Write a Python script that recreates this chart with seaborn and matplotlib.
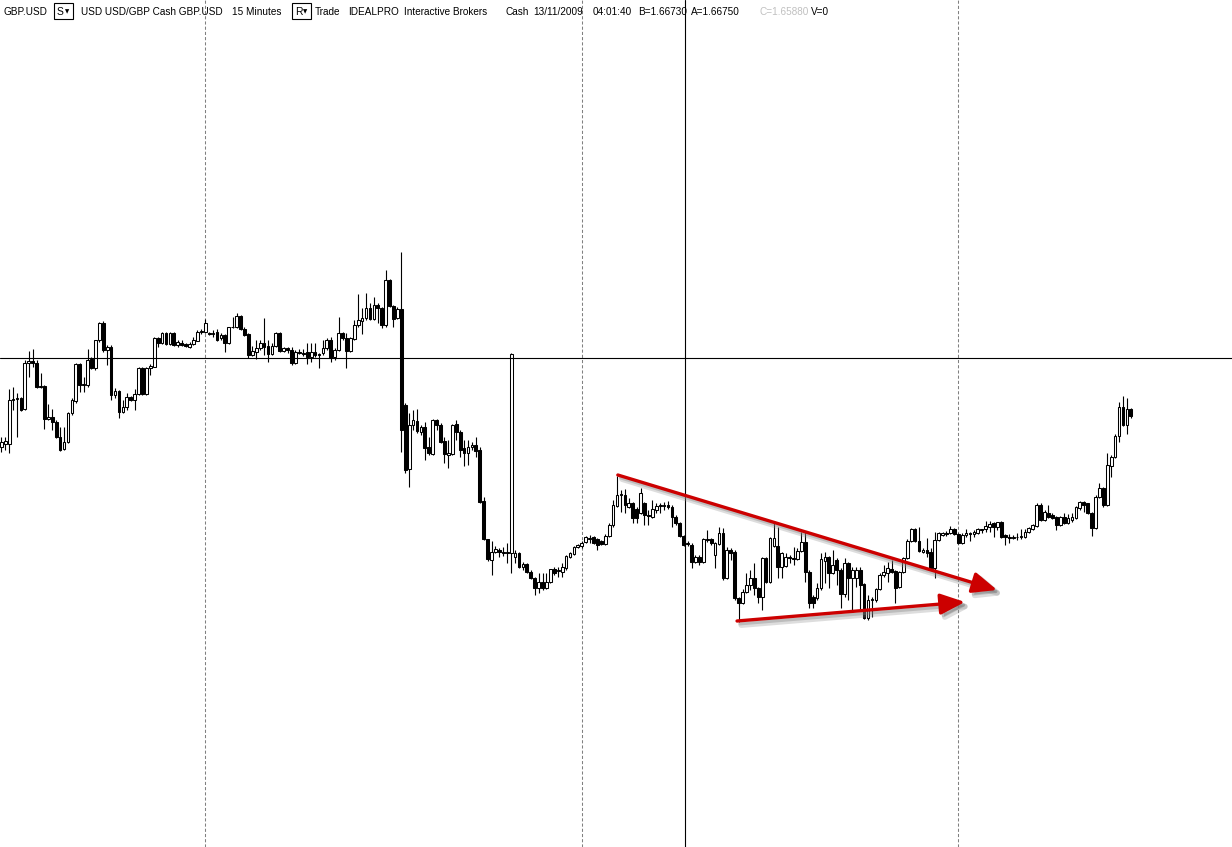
import numpy as np
import pandas as pd
import matplotlib
matplotlib.use("Agg")
import matplotlib.pyplot as plt
import matplotlib.patheffects as pe
from matplotlib.patches import Rectangle
import seaborn as sns

# GBP.USD, 15 minute bars (one value per bar)
opens = [1.6633, 1.6636, 1.6636, 1.6680, 1.6681, 1.6682, 1.6671, 1.6717, 1.6719, 1.6717,
         1.6693, 1.6694, 1.6661, 1.6663, 1.6658, 1.6643, 1.6631, 1.6638, 1.6667, 1.6679,
         1.6716, 1.6695, 1.6695, 1.6721, 1.6712, 1.6740, 1.6757, 1.6730, 1.6733, 1.6685,
         1.6689, 1.6668, 1.6673, 1.6683, 1.6680, 1.6686, 1.6712, 1.6686, 1.6712, 1.6713,
         1.6742, 1.6737, 1.6747, 1.6736, 1.6747, 1.6735, 1.6737, 1.6736, 1.6733, 1.6736,
         1.6739, 1.6748, 1.6748, 1.6747, 1.6746, 1.6748, 1.6742, 1.6745, 1.6737, 1.6753,
         1.6753, 1.6764, 1.6751, 1.6746, 1.6725, 1.6728, 1.6732, 1.6737, 1.6734, 1.6726,
         1.6734, 1.6747, 1.6729, 1.6732, 1.6730, 1.6717, 1.6728, 1.6727, 1.6728, 1.6723,
         1.6728, 1.6726, 1.6727, 1.6732, 1.6740, 1.6723, 1.6730, 1.6747, 1.6742, 1.6729,
         1.6741, 1.6755, 1.6759, 1.6762, 1.6772, 1.6761, 1.6775, 1.6772, 1.6755, 1.6800,
         1.6774, 1.6762, 1.6771, 1.6675, 1.6611, 1.6655, 1.6659, 1.6648, 1.6653, 1.6633,
         1.6626, 1.6660, 1.6655, 1.6639, 1.6625, 1.6626, 1.6656, 1.6648, 1.6632, 1.6627,
         1.6633, 1.6635, 1.6630, 1.6579, 1.6541, 1.6520, 1.6528, 1.6530, 1.6528, 1.6528,
         1.6527, 1.6523, 1.6527, 1.6513, 1.6516, 1.6508, 1.6502, 1.6492, 1.6498, 1.6492,
         1.6498, 1.6511, 1.6509, 1.6508, 1.6512, 1.6523, 1.6526, 1.6533, 1.6534, 1.6538,
         1.6541, 1.6543, 1.6541, 1.6539, 1.6536, 1.6544, 1.6555, 1.6574, 1.6585, 1.6585,
         1.6573, 1.6577, 1.6571, 1.6567, 1.6577, 1.6565, 1.6563, 1.6570, 1.6574, 1.6575,
         1.6575, 1.6573, 1.6563, 1.6557, 1.6544, 1.6536, 1.6535, 1.6518, 1.6523, 1.6518,
         1.6541, 1.6541, 1.6525, 1.6536, 1.6547, 1.6502, 1.6530, 1.6528, 1.6482, 1.6477,
         1.6488, 1.6495, 1.6502, 1.6492, 1.6483, 1.6522, 1.6498, 1.6534, 1.6534, 1.6513,
         1.6514, 1.6523, 1.6522, 1.6521, 1.6529, 1.6538, 1.6508, 1.6483, 1.6482, 1.6492,
         1.6519, 1.6523, 1.6507, 1.6520, 1.6510, 1.6486, 1.6517, 1.6502, 1.6502, 1.6510,
         1.6496, 1.6462, 1.6480, 1.6480, 1.6491, 1.6505, 1.6507, 1.6511, 1.6509, 1.6493,
         1.6508, 1.6522, 1.6539, 1.6551, 1.6539, 1.6528, 1.6530, 1.6528, 1.6512, 1.6540,
         1.6545, 1.6547, 1.6547, 1.6551, 1.6546, 1.6537, 1.6545, 1.6547, 1.6546, 1.6547,
         1.6551, 1.6551, 1.6553, 1.6557, 1.6553, 1.6558, 1.6545, 1.6543, 1.6542, 1.6543,
         1.6543, 1.6543, 1.6548, 1.6551, 1.6554, 1.6575, 1.6560, 1.6567, 1.6565, 1.6563,
         1.6555, 1.6563, 1.6557, 1.6560, 1.6562, 1.6572, 1.6578, 1.6577, 1.6567, 1.6552,
         1.6583, 1.6592, 1.6575, 1.6614, 1.6623, 1.6644, 1.6673, 1.6655, 1.6671]

highs = [1.6643, 1.6643, 1.6691, 1.6693, 1.6687, 1.6683, 1.6720, 1.6729, 1.6731, 1.6720,
         1.6707, 1.6695, 1.6676, 1.6671, 1.6660, 1.6653, 1.6653, 1.6668, 1.6682, 1.6717,
         1.6717, 1.6703, 1.6731, 1.6723, 1.6740, 1.6758, 1.6759, 1.6735, 1.6735, 1.6692,
         1.6690, 1.6680, 1.6687, 1.6684, 1.6691, 1.6713, 1.6713, 1.6713, 1.6716, 1.6743,
         1.6743, 1.6748, 1.6748, 1.6748, 1.6748, 1.6740, 1.6740, 1.6737, 1.6738, 1.6743,
         1.6750, 1.6751, 1.6761, 1.6748, 1.6750, 1.6751, 1.6747, 1.6746, 1.6753, 1.6763,
         1.6767, 1.6765, 1.6753, 1.6747, 1.6734, 1.6740, 1.6740, 1.6762, 1.6740, 1.6737,
         1.6748, 1.6748, 1.6733, 1.6733, 1.6733, 1.6730, 1.6731, 1.6731, 1.6737, 1.6737,
         1.6737, 1.6727, 1.6740, 1.6742, 1.6743, 1.6732, 1.6763, 1.6748, 1.6747, 1.6743,
         1.6760, 1.6786, 1.6772, 1.6787, 1.6777, 1.6783, 1.6777, 1.6773, 1.6810, 1.6801,
         1.6775, 1.6773, 1.6828, 1.6677, 1.6667, 1.6670, 1.6671, 1.6655, 1.6658, 1.6643,
         1.6661, 1.6661, 1.6657, 1.6643, 1.6640, 1.6656, 1.6660, 1.6650, 1.6640, 1.6640,
         1.6638, 1.6643, 1.6633, 1.6583, 1.6541, 1.6539, 1.6534, 1.6532, 1.6533, 1.6537,
         1.6727, 1.6530, 1.6528, 1.6518, 1.6517, 1.6510, 1.6503, 1.6507, 1.6507, 1.6507,
         1.6511, 1.6513, 1.6513, 1.6517, 1.6525, 1.6528, 1.6534, 1.6536, 1.6539, 1.6544,
         1.6545, 1.6544, 1.6542, 1.6540, 1.6546, 1.6557, 1.6580, 1.6604, 1.6590, 1.6591,
         1.6582, 1.6578, 1.6573, 1.6592, 1.6578, 1.6570, 1.6580, 1.6577, 1.6577, 1.6578,
         1.6579, 1.6575, 1.6565, 1.6558, 1.6545, 1.6539, 1.6537, 1.6525, 1.6525, 1.6542,
         1.6550, 1.6542, 1.6538, 1.6553, 1.6552, 1.6533, 1.6532, 1.6530, 1.6483, 1.6491,
         1.6507, 1.6510, 1.6517, 1.6493, 1.6523, 1.6523, 1.6543, 1.6557, 1.6553, 1.6528,
         1.6527, 1.6525, 1.6533, 1.6532, 1.6548, 1.6548, 1.6510, 1.6485, 1.6497, 1.6527,
         1.6528, 1.6524, 1.6530, 1.6522, 1.6512, 1.6522, 1.6518, 1.6513, 1.6513, 1.6513,
         1.6497, 1.6485, 1.6483, 1.6492, 1.6507, 1.6515, 1.6518, 1.6520, 1.6510, 1.6509,
         1.6523, 1.6541, 1.6552, 1.6552, 1.6553, 1.6532, 1.6542, 1.6532, 1.6548, 1.6548,
         1.6548, 1.6549, 1.6554, 1.6552, 1.6547, 1.6547, 1.6551, 1.6548, 1.6550, 1.6552,
         1.6551, 1.6559, 1.6559, 1.6558, 1.6558, 1.6559, 1.6546, 1.6546, 1.6545, 1.6547,
         1.6551, 1.6551, 1.6553, 1.6556, 1.6577, 1.6577, 1.6570, 1.6575, 1.6567, 1.6564,
         1.6564, 1.6567, 1.6566, 1.6567, 1.6574, 1.6579, 1.6579, 1.6577, 1.6568, 1.6585,
         1.6597, 1.6593, 1.6627, 1.6625, 1.6646, 1.6678, 1.6684, 1.6682, 1.6672]

lows = [1.6628, 1.6630, 1.6627, 1.6670, 1.6643, 1.6669, 1.6670, 1.6703, 1.6713, 1.6692,
        1.6692, 1.6651, 1.6660, 1.6650, 1.6642, 1.6629, 1.6630, 1.6637, 1.6665, 1.6677,
        1.6688, 1.6688, 1.6693, 1.6711, 1.6710, 1.6738, 1.6728, 1.6715, 1.6680, 1.6682,
        1.6662, 1.6667, 1.6670, 1.6679, 1.6670, 1.6685, 1.6685, 1.6685, 1.6705, 1.6713,
        1.6733, 1.6736, 1.6735, 1.6735, 1.6734, 1.6733, 1.6734, 1.6733, 1.6732, 1.6735,
        1.6739, 1.6746, 1.6747, 1.6745, 1.6743, 1.6739, 1.6740, 1.6728, 1.6736, 1.6752,
        1.6752, 1.6750, 1.6744, 1.6722, 1.6724, 1.6721, 1.6730, 1.6725, 1.6718, 1.6725,
        1.6733, 1.6728, 1.6728, 1.6727, 1.6715, 1.6716, 1.6726, 1.6724, 1.6716, 1.6718,
        1.6723, 1.6712, 1.6725, 1.6730, 1.6718, 1.6720, 1.6729, 1.6740, 1.6712, 1.6728,
        1.6740, 1.6753, 1.6746, 1.6760, 1.6760, 1.6760, 1.6757, 1.6752, 1.6753, 1.6773,
        1.6753, 1.6761, 1.6628, 1.6607, 1.6593, 1.6650, 1.6647, 1.6645, 1.6620, 1.6625,
        1.6625, 1.6650, 1.6637, 1.6617, 1.6612, 1.6625, 1.6640, 1.6623, 1.6614, 1.6615,
        1.6630, 1.6623, 1.6577, 1.6540, 1.6519, 1.6505, 1.6527, 1.6523, 1.6524, 1.6517,
        1.6507, 1.6517, 1.6512, 1.6510, 1.6507, 1.6501, 1.6485, 1.6487, 1.6490, 1.6491,
        1.6497, 1.6505, 1.6503, 1.6503, 1.6510, 1.6522, 1.6525, 1.6532, 1.6532, 1.6537,
        1.6537, 1.6536, 1.6530, 1.6535, 1.6535, 1.6543, 1.6553, 1.6573, 1.6568, 1.6567,
        1.6572, 1.6557, 1.6557, 1.6566, 1.6555, 1.6555, 1.6562, 1.6567, 1.6567, 1.6570,
        1.6571, 1.6553, 1.6555, 1.6543, 1.6534, 1.6534, 1.6512, 1.6517, 1.6515, 1.6517,
        1.6538, 1.6535, 1.6512, 1.6535, 1.6500, 1.6501, 1.6520, 1.6480, 1.6458, 1.6476,
        1.6487, 1.6490, 1.6485, 1.6477, 1.6470, 1.6497, 1.6497, 1.6533, 1.6502, 1.6502,
        1.6513, 1.6517, 1.6515, 1.6520, 1.6528, 1.6498, 1.6472, 1.6472, 1.6480, 1.6490,
        1.6497, 1.6492, 1.6506, 1.6495, 1.6472, 1.6483, 1.6480, 1.6470, 1.6493, 1.6470,
        1.6461, 1.6460, 1.6463, 1.6478, 1.6490, 1.6503, 1.6498, 1.6507, 1.6477, 1.6492,
        1.6507, 1.6521, 1.6538, 1.6538, 1.6528, 1.6527, 1.6523, 1.6511, 1.6502, 1.6539,
        1.6544, 1.6544, 1.6546, 1.6545, 1.6536, 1.6536, 1.6543, 1.6539, 1.6543, 1.6546,
        1.6547, 1.6548, 1.6548, 1.6543, 1.6550, 1.6542, 1.6535, 1.6537, 1.6541, 1.6540,
        1.6541, 1.6542, 1.6547, 1.6550, 1.6553, 1.6559, 1.6559, 1.6562, 1.6561, 1.6550,
        1.6554, 1.6556, 1.6556, 1.6558, 1.6561, 1.6570, 1.6568, 1.6566, 1.6544, 1.6551,
        1.6582, 1.6573, 1.6574, 1.6603, 1.6622, 1.6638, 1.6654, 1.6646, 1.6662]

closes = [1.6638, 1.6639, 1.6680, 1.6681, 1.6682, 1.6670, 1.6717, 1.6719, 1.6717, 1.6693,
          1.6694, 1.6661, 1.6663, 1.6658, 1.6643, 1.6630, 1.6638, 1.6667, 1.6680, 1.6716,
          1.6695, 1.6696, 1.6720, 1.6712, 1.6740, 1.6757, 1.6730, 1.6733, 1.6685, 1.6689,
          1.6668, 1.6673, 1.6683, 1.6680, 1.6686, 1.6712, 1.6686, 1.6712, 1.6714, 1.6742,
          1.6737, 1.6747, 1.6736, 1.6747, 1.6735, 1.6738, 1.6735, 1.6734, 1.6736, 1.6740,
          1.6748, 1.6749, 1.6757, 1.6746, 1.6747, 1.6740, 1.6745, 1.6737, 1.6753, 1.6753,
          1.6764, 1.6751, 1.6745, 1.6725, 1.6729, 1.6732, 1.6737, 1.6733, 1.6726, 1.6734,
          1.6747, 1.6729, 1.6732, 1.6730, 1.6717, 1.6728, 1.6727, 1.6726, 1.6723, 1.6728,
          1.6725, 1.6725, 1.6732, 1.6740, 1.6722, 1.6730, 1.6747, 1.6742, 1.6729, 1.6742,
          1.6755, 1.6760, 1.6762, 1.6772, 1.6761, 1.6775, 1.6772, 1.6755, 1.6800, 1.6774,
          1.6761, 1.6771, 1.6650, 1.6610, 1.6655, 1.6660, 1.6649, 1.6653, 1.6632, 1.6627,
          1.6660, 1.6655, 1.6638, 1.6626, 1.6627, 1.6655, 1.6648, 1.6630, 1.6627, 1.6633,
          1.6635, 1.6629, 1.6578, 1.6541, 1.6521, 1.6528, 1.6531, 1.6528, 1.6527, 1.6527,
          1.6726, 1.6527, 1.6513, 1.6516, 1.6508, 1.6502, 1.6492, 1.6498, 1.6492, 1.6498,
          1.6511, 1.6507, 1.6510, 1.6513, 1.6524, 1.6527, 1.6533, 1.6535, 1.6537, 1.6543,
          1.6542, 1.6537, 1.6535, 1.6536, 1.6544, 1.6555, 1.6575, 1.6585, 1.6586, 1.6575,
          1.6577, 1.6562, 1.6562, 1.6587, 1.6565, 1.6564, 1.6571, 1.6574, 1.6575, 1.6574,
          1.6573, 1.6563, 1.6557, 1.6544, 1.6535, 1.6537, 1.6518, 1.6523, 1.6518, 1.6541,
          1.6540, 1.6537, 1.6537, 1.6547, 1.6502, 1.6530, 1.6527, 1.6482, 1.6477, 1.6488,
          1.6495, 1.6502, 1.6492, 1.6483, 1.6522, 1.6498, 1.6542, 1.6542, 1.6513, 1.6527,
          1.6523, 1.6522, 1.6521, 1.6529, 1.6538, 1.6508, 1.6477, 1.6477, 1.6492, 1.6521,
          1.6523, 1.6507, 1.6515, 1.6510, 1.6486, 1.6517, 1.6502, 1.6510, 1.6510, 1.6495,
          1.6462, 1.6480, 1.6481, 1.6491, 1.6505, 1.6508, 1.6512, 1.6508, 1.6492, 1.6508,
          1.6522, 1.6539, 1.6551, 1.6539, 1.6529, 1.6530, 1.6527, 1.6512, 1.6540, 1.6547,
          1.6547, 1.6546, 1.6551, 1.6546, 1.6537, 1.6545, 1.6547, 1.6546, 1.6548, 1.6551,
          1.6550, 1.6554, 1.6556, 1.6553, 1.6558, 1.6543, 1.6543, 1.6542, 1.6543, 1.6543,
          1.6544, 1.6548, 1.6552, 1.6555, 1.6575, 1.6560, 1.6568, 1.6563, 1.6562, 1.6555,
          1.6563, 1.6557, 1.6562, 1.6563, 1.6573, 1.6578, 1.6575, 1.6567, 1.6552, 1.6583,
          1.6592, 1.6575, 1.6615, 1.6623, 1.6644, 1.6673, 1.6655, 1.6671, 1.6664]

day_starts = [52, 148, 244]          # bars at midnight (dashed separators)
cursor_bar, cursor_price = 174.3, 1.6722
trend_upper = [(157.2, 1.6605), (253.9, 1.6490)]
trend_lower = [(187.6, 1.6459), (245.7, 1.6478)]

df = pd.DataFrame({"open": opens, "high": highs, "low": lows, "close": closes})
df["bar"] = np.arange(len(df))
df["up"] = df["close"] >= df["open"]

sns.set_theme(style="white")
plt.rcParams["font.family"] = ["Liberation Sans", "DejaVu Sans"]

fig = plt.figure(figsize=(12.32, 8.47), dpi=100)
ax = fig.add_axes([0, 0, 1, 1])
ax.set_axis_off()
ax.set_xlim(-0.33, 313.8)
ax.set_ylim(1.6233, 1.7080)

# day separators
ax.vlines(day_starts, 1.6233, 1.7080, colors="#808080", linewidth=0.75,
          linestyles=(0, (3, 2)), zorder=1)

# crosshair
ax.axhline(cursor_price, color="black", lw=0.8, zorder=5)
ax.axvline(cursor_bar, color="black", lw=0.8, zorder=5)

# candles: wicks then bodies
ax.vlines(df["bar"], df["low"], df["high"], color="black", linewidth=0.8, zorder=2)
body_low = np.minimum(df["open"], df["close"])
body_h = (df["close"] - df["open"]).abs()
ax.bar(df["bar"], body_h, bottom=body_low, width=0.7,
       color=np.where(df["up"], "white", "black"), edgecolor="black",
       linewidth=0.75, zorder=3)

# hand drawn red trend arrows with a soft shadow
for (x0, y0), (x1, y1) in (trend_upper, trend_lower):
    ann = ax.annotate("", xy=(x1, y1), xytext=(x0, y0),
                      arrowprops=dict(arrowstyle="-|>,head_length=0.75,head_width=0.32",
                                      color="#cc0000", lw=2.4, mutation_scale=20,
                                      shrinkA=0, shrinkB=0), zorder=6)
    ann.arrow_patch.set_path_effects([
        pe.SimpleLineShadow(offset=(3, -3), shadow_color="#909090", alpha=0.3, linewidth=4),
        pe.SimpleLineShadow(offset=(2, -2), shadow_color="#808080", alpha=0.35),
        pe.SimplePatchShadow(offset=(2.5, -2.5), shadow_rgbFace="#808080", alpha=0.45),
        pe.Normal()])

# header strip
W, H = 1232, 847
base = 1 - 15 / H
header = [("GBP.USD", 4, "black"), ("USD USD/GBP Cash GBP.USD", 81, "black"),
          ("15 Minutes", 232, "black"), ("Trade", 315, "black"),
          ("IDEALPRO", 348, "black"), ("Interactive Brokers", 404, "black"),
          ("Cash", 506, "black"), ("13/11/2009", 533, "black"),
          ("04:01:40", 593, "black"), ("B=1.66730", 638, "black"),
          ("A=1.66750", 691, "black"), ("C=1.65880", 759, "#c0c0c0"),
          ("V=0", 811, "black")]
for txt, x, col in header:
    fig.text(x / W, base, txt, fontsize=7.2, color=col, va="baseline", ha="left")

# the two small drop-down buttons
for letter, x in (("S", 54), ("R", 292)):
    fig.patches.append(Rectangle((x / W, 1 - 19 / H), 19 / W, 16 / H,
                                 transform=fig.transFigure, fill=False,
                                 edgecolor="black", linewidth=0.8))
    fig.text((x + 3) / W, base, letter, fontsize=7.5, color="black",
             va="baseline", ha="left")
    fig.text((x + 10.5) / W, 1 - 11.5 / H, "\u25bc", fontsize=4,
             family="DejaVu Sans", color="black", va="center", ha="left")

fig.savefig("out.png", dpi=100, facecolor="white")
